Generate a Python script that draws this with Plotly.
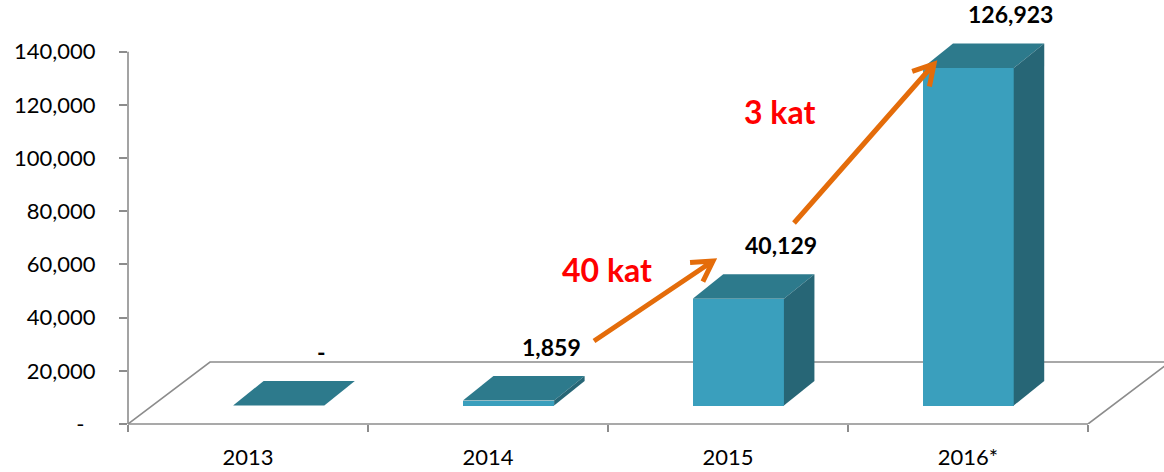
import math
import plotly.graph_objects as go

# ---------------- data ----------------
categories = ["2013", "2014", "2015", "2016*"]
values = [0, 1859, 40129, 126923]
value_labels = ["-", "1,859", "40,129", "126,923"]
y_tickvals = [0, 20000, 40000, 60000, 80000, 100000, 120000, 140000]
y_ticktext = ["-\u00a0\u00a0", "20,000", "40,000", "60,000", "80,000",
              "100,000", "120,000", "140,000"]
growth_labels = ["40 kat", "3 kat"]

# ---------------- layout geometry (style) ----------------
W, H = 1164, 472
ML, MB = 128, 48
PW, PH = W - ML, H - MB
PX_PER_CAT = 240.0
PX_PER_Y = 372.3 / 140000.0
x_range = [-0.5, -0.5 + PW / PX_PER_CAT]
y_range = [0, PH / PX_PER_Y]


def px_to_x(px):
    return -0.5 + (px - ML) / PX_PER_CAT


def py_to_y(py):
    return (PH - py) / PX_PER_Y


FLOOR_DX = 82 / PX_PER_CAT
FLOOR_DY = 62 / PX_PER_Y
BAR_BASE = 18.5 / PX_PER_Y
BAR_W = 0.38
BAR_DDX = 30.5 / PX_PER_CAT
BAR_DDY = 24.5 / PX_PER_Y
BAR_OFFSET = 0.128
BAR_SPACING = 0.9575

FRONT = "#3A9FBD"
TOP = "#2D7A8C"
SIDE = "#276676"
AXIS = "#8C8C8C"
ORANGE = "#E46C0A"
FONT = "Lato"

centers = [BAR_OFFSET + BAR_SPACING * i for i in range(len(categories))]

fig = go.Figure()
fig.add_trace(go.Bar(
    x=centers, y=values, base=BAR_BASE, width=BAR_W,
    marker=dict(color=FRONT, line=dict(width=0)),
    hoverinfo="skip", showlegend=False,
))

shapes = []
n = len(categories)
# floor (left diagonal, back line, right diagonal)
shapes.append(dict(
    type="path", xref="x", yref="y", layer="below",
    path=(f"M {-0.5},{0} L {-0.5 + FLOOR_DX},{FLOOR_DY} "
          f"L {n - 0.5 + FLOOR_DX},{FLOOR_DY} L {n - 0.5},{0}"),
    line=dict(color=AXIS, width=1.6),
))
# front axis line
shapes.append(dict(type="line", xref="x", yref="paper", x0=-0.5, x1=n - 0.5,
                   y0=0, y1=0, line=dict(color=AXIS, width=1.6), layer="above"))
# vertical axis line
shapes.append(dict(type="line", xref="paper", yref="y", x0=0, x1=0,
                   y0=0, y1=y_tickvals[-1], line=dict(color=AXIS, width=1.6)))

# 3D faces of bars
for c, v in zip(centers, values):
    xl, xr = c - BAR_W / 2, c + BAR_W / 2
    top = BAR_BASE + v
    shapes.append(dict(
        type="path", xref="x", yref="y", fillcolor=TOP, line=dict(width=0),
        path=(f"M {xl},{top} L {xr},{top} L {xr + BAR_DDX},{top + BAR_DDY} "
              f"L {xl + BAR_DDX},{top + BAR_DDY} Z"),
    ))
    if v > 0:
        shapes.append(dict(
            type="path", xref="x", yref="y", fillcolor=SIDE, line=dict(width=0),
            path=(f"M {xr},{BAR_BASE} L {xr},{top} L {xr + BAR_DDX},{top + BAR_DDY} "
                  f"L {xr + BAR_DDX},{BAR_BASE + BAR_DDY} Z"),
        ))

# growth arrows (decoration, pixel-specified then converted)
arrows_px = [((594, 341), (713, 261)), ((794, 223), (934, 64))]
WING_LEN, WING_ANG = 23, math.radians(30)
for (sx, sy), (tx, ty) in arrows_px:
    dx, dy = tx - sx, ty - sy
    L = math.hypot(dx, dy)
    ux, uy = -dx / L, -dy / L
    wings = []
    for s in (1, -1):
        a = s * WING_ANG
        wx = ux * math.cos(a) - uy * math.sin(a)
        wy = ux * math.sin(a) + uy * math.cos(a)
        wings.append((tx + WING_LEN * wx, ty + WING_LEN * wy))
    p = lambda q: f"{px_to_x(q[0])},{py_to_y(q[1])}"
    path = (f"M {p((sx, sy))} L {p((tx, ty))} "
            f"M {p(wings[0])} L {p((tx, ty))} L {p(wings[1])}")
    shapes.append(dict(type="path", xref="x", yref="y", path=path,
                       line=dict(color=ORANGE, width=5)))

annotations = []
for c, v, lab in zip(centers, values, value_labels):
    annotations.append(dict(
        x=c + BAR_DDX, y=BAR_BASE + v + BAR_DDY, xref="x", yref="y",
        text=f"<b>{lab}</b>", showarrow=False, xshift=12, yshift=29,
        yanchor="middle", xanchor="center",
        font=dict(family=FONT, size=23, color="#000000"),
    ))
growth_pos_px = [(607, 269), (779, 111)]
for (gx, gy), lab in zip(growth_pos_px, growth_labels):
    annotations.append(dict(
        x=px_to_x(gx), y=py_to_y(gy), xref="x", yref="y",
        text=f"<b>{lab}</b>", showarrow=False, yanchor="middle", xanchor="center",
        font=dict(family=FONT, size=32, color="#FF0000"),
    ))

fig.update_layout(
    width=W, height=H,
    margin=dict(l=ML, r=0, t=0, b=MB, pad=0),
    paper_bgcolor="white", plot_bgcolor="white",
    showlegend=False,
    shapes=shapes, annotations=annotations,
    bargap=0,
    font=dict(family=FONT, size=22, color="#000000"),
    xaxis=dict(
        range=x_range, showgrid=False, zeroline=False, showline=False,
        tickmode="array", tickvals=list(range(n)), ticktext=categories,
        ticks="", ticklabelstandoff=18,
        tickfont=dict(family=FONT, size=22, color="#000000"),
        minor=dict(tickmode="array", tickvals=[i - 0.5 for i in range(n + 1)],
                   ticks="outside", ticklen=7, tickcolor=AXIS, tickwidth=1.6,
                   showgrid=False),
        fixedrange=True,
    ),
    yaxis=dict(
        range=y_range, showgrid=False, zeroline=False, showline=False,
        tickmode="array", tickvals=y_tickvals, ticktext=y_ticktext,
        ticks="outside", ticklen=8, tickcolor=AXIS, tickwidth=1.6,
        ticklabelstandoff=19,
        tickfont=dict(family=FONT, size=22, color="#000000"),
        fixedrange=True,
    ),
)

fig.write_html("out.html", config={"displayModeBar": False},
               post_script="document.body.style.margin='0px';"
                           "document.body.style.overflow='hidden';")
